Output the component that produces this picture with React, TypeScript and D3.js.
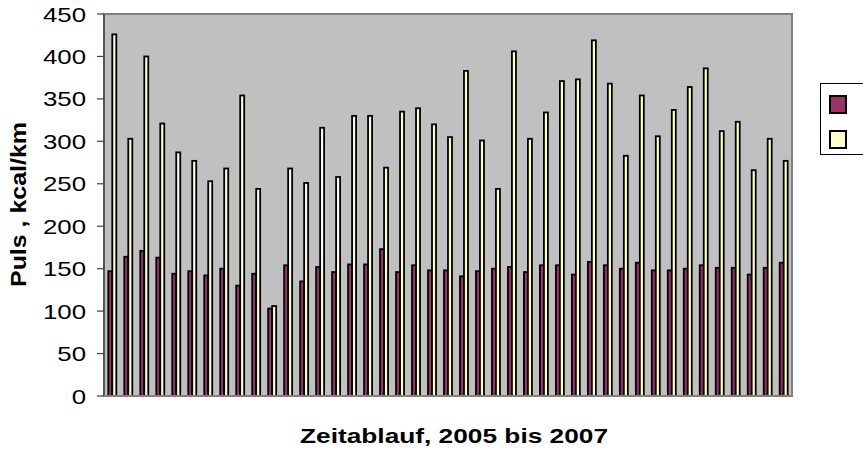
import React, { useEffect, useRef } from 'react';
import * as d3 from 'd3';

// Zeitreihe 2005 bis 2007, ein Eintrag pro Messung
const periods = d3.range(1, 44).map(String);

const pulsValues = [
  147, 164, 171, 163, 144, 147, 142, 150, 130, 144,
  103, 154, 135, 152, 146, 155, 155, 173, 146, 154,
  148, 148, 141, 147, 150, 152, 146, 154, 154, 143,
  158, 154, 150, 157, 148, 148, 150, 154, 151, 151,
  143, 151, 157,
];

const kcalValues = [
  426, 303, 400, 321, 287, 277, 253, 268, 354, 244,
  106, 268, 251, 316, 258, 330, 330, 269, 335, 339,
  320, 305, 383, 301, 244, 406, 303, 334, 371, 373,
  419, 368, 283, 354, 306, 337, 364, 386, 312, 323,
  266, 303, 277,
];

const seriesNames = ['Puls', 'kcal/km'];
const seriesColors = ['#993366', '#FFFFCC'];
const yTicks = [0, 50, 100, 150, 200, 250, 300, 350, 400, 450];

const W = 863;
const H = 454;
const FONT = '"Liberation Sans", Arial, sans-serif';

export default function App() {
  const svgRef = useRef<SVGSVGElement>(null);

  useEffect(() => {
    if (!svgRef.current) return;
    const svg = d3.select(svgRef.current);
    svg.selectAll('*').remove();

    const plot = { left: 104, top: 14, right: 792, bottom: 396 };

    const x = d3.scaleBand<string>()
      .domain(periods)
      .range([plot.left, plot.right])
      .paddingInner(0.5)
      .paddingOuter(0.27);

    const xSub = d3.scaleBand<number>()
      .domain([0, 1])
      .range([0, x.bandwidth()]);

    const y = d3.scaleLinear()
      .domain([0, 450])
      .range([plot.bottom, plot.top]);

    // plot area
    svg.append('rect')
      .attr('x', plot.left)
      .attr('y', plot.top)
      .attr('width', plot.right - plot.left)
      .attr('height', plot.bottom - plot.top)
      .attr('fill', '#C0C0C0')
      .attr('stroke', '#808080')
      .attr('stroke-width', 2);

    // bars
    const series = [pulsValues, kcalValues];
    series.forEach((values, si) => {
      svg.append('g')
        .selectAll('rect')
        .data(values)
        .enter()
        .append('rect')
        .attr('x', (_, i) => (x(periods[i]) || 0) + (xSub(si) || 0))
        .attr('y', d => y(d))
        .attr('width', xSub.bandwidth())
        .attr('height', d => y(0) - y(d))
        .attr('fill', seriesColors[si])
        .attr('stroke', '#000000')
        .attr('stroke-width', 1.8);
    });

    // y axis line + ticks
    svg.append('line')
      .attr('x1', plot.left)
      .attr('x2', plot.left)
      .attr('y1', plot.top)
      .attr('y2', plot.bottom)
      .attr('stroke', '#555555')
      .attr('stroke-width', 2);

    svg.append('line')
      .attr('x1', plot.left)
      .attr('x2', plot.right)
      .attr('y1', plot.bottom)
      .attr('y2', plot.bottom)
      .attr('stroke', '#808080')
      .attr('stroke-width', 2);

    svg.selectAll('.tick')
      .data(yTicks)
      .enter()
      .append('line')
      .attr('class', 'tick')
      .attr('x1', plot.left - 7)
      .attr('x2', plot.left)
      .attr('y1', d => y(d))
      .attr('y2', d => y(d))
      .attr('stroke', '#404040')
      .attr('stroke-width', 1.2);

    svg.selectAll('.tick-label')
      .data(yTicks)
      .enter()
      .append('text')
      .attr('class', 'tick-label')
      .attr('transform', d => `translate(86,${y(d) + 7.5}) scale(1.23,1)`)
      .attr('text-anchor', 'end')
      .attr('font-family', FONT)
      .attr('font-size', 21)
      .attr('fill', '#000000')
      .text(d => d);

    // axis titles
    svg.append('text')
      .attr('x', 300)
      .attr('y', 443)
      .attr('textLength', 308)
      .attr('lengthAdjust', 'spacingAndGlyphs')
      .attr('font-family', FONT)
      .attr('font-size', 20)
      .attr('font-weight', 'bold')
      .text('Zeitablauf, 2005 bis 2007');

    svg.append('text')
      .attr('transform', 'translate(26,287) rotate(-90)')
      .attr('textLength', 165)
      .attr('lengthAdjust', 'spacingAndGlyphs')
      .attr('font-family', FONT)
      .attr('font-size', 22)
      .attr('font-weight', 'bold')
      .text('Puls , kcal/km');

    // legend (text falls outside the visible area)
    svg.append('rect')
      .attr('x', 820.5)
      .attr('y', 83.5)
      .attr('width', 80)
      .attr('height', 71)
      .attr('fill', '#FFFFFF')
      .attr('stroke', '#000000')
      .attr('stroke-width', 1);

    const legend = svg.append('g')
      .selectAll('g')
      .data(seriesNames)
      .enter()
      .append('g')
      .attr('transform', (_, i) => `translate(830,${96 + i * 35})`);

    legend.append('rect')
      .attr('width', 16)
      .attr('height', 17)
      .attr('fill', (_, i) => seriesColors[i])
      .attr('stroke', '#000000')
      .attr('stroke-width', 2);
  }, []);

  return (
    <svg
      ref={svgRef}
      width={W}
      height={H}
      style={{ position: 'absolute', left: 0, top: 0, background: '#ffffff' }}
    />
  );
}
